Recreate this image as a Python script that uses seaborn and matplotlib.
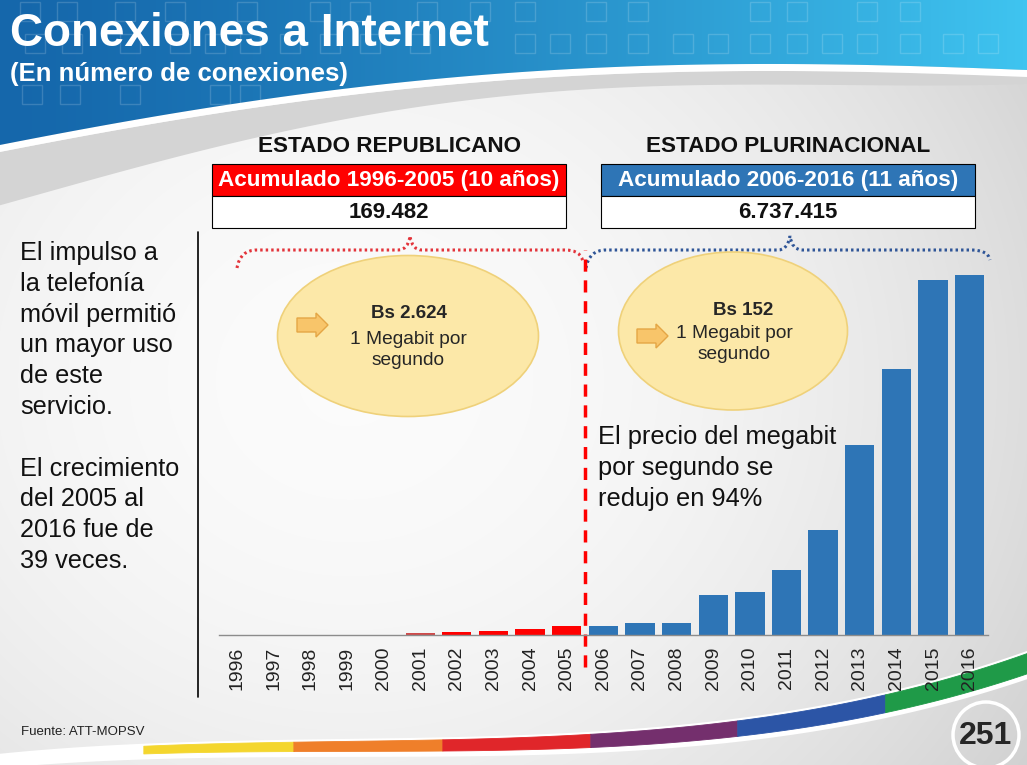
import numpy as np
import pandas as pd
import matplotlib
matplotlib.use("Agg")
import matplotlib.pyplot as plt
import seaborn as sns
from matplotlib.patches import Ellipse, Polygon, Rectangle, Circle, PathPatch
from matplotlib.path import Path

# ---------------- data ----------------
years = [str(y) for y in range(1996, 2017)]
connections = [0, 0, 0, 0, 0, 10600, 15300, 19900, 27700, 43000,
               43000, 56800, 56800, 184800, 198700, 300400, 485200,
               878000, 1229200, 1640500, 1663600]
periods = ["Republicano"] * 10 + ["Plurinacional"] * 11
bar_colors = ["#ff0000"] * 5 + ["#cf4a4a"] + ["#ff0000"] * 4 + ["#2e75b6"] * 11

title = "Conexiones a Internet"
subtitle = "(En número de conexiones)"
head_left = "ESTADO REPUBLICANO"
head_right = "ESTADO PLURINACIONAL"
acc_left_label = "Acumulado 1996-2005 (10 años)"
acc_right_label = "Acumulado 2006-2016 (11 años)"
acc_left_value = "169.482"
acc_right_value = "6.737.415"
price_left = "Bs 2.624"
price_right = "Bs 152"
price_unit = "1 Megabit por\nsegundo"
note_price = ["El precio del megabit", "por segundo se", "redujo en 94%"]
left_lines = ["El impulso a", "la telefonía", "móvil permitió", "un mayor uso",
              "de este", "servicio.", "", "El crecimiento", "del 2005 al",
              "2016 fue de", "39 veces."]
source = "Fuente: ATT-MOPSV"
page = "251"

df = pd.DataFrame({"year": years, "connections": connections, "period": periods})

# ---------------- style ----------------
sns.set_style("white")
plt.rcParams["font.family"] = ["Liberation Sans", "DejaVu Sans"]

W, H = 1027, 765
fig = plt.figure(figsize=(W / 100, H / 100), dpi=100)

# background axes in pixel coordinates
bg = fig.add_axes([0, 0, 1, 1], zorder=0)
bg.set_xlim(0, W)
bg.set_ylim(H, 0)
bg.axis("off")

yy, xx = np.mgrid[0:H, 0:W]
d = np.sqrt(((xx - 350) / 700.0) ** 2 + ((yy - 380) / 620.0) ** 2)
val = 0.985 - 0.125 * np.clip(d, 0, 1.3) ** 2
bg.imshow(np.dstack([val] * 3), extent=[0, W, H, 0], aspect="auto", zorder=0)


def smooth(xp, yp, deg=3, n=2000, x0=0, x1=W):
    c = np.polyfit(xp, yp, deg)
    xs = np.linspace(x0, x1, n)
    return xs, np.polyval(c, xs)


# header
hx, hy = smooth([0, 150, 300, 450, 600, 800, 1027], [145, 117, 95, 77, 68, 64, 70], deg=4)
gx, gy = smooth([0, 150, 300, 450, 600, 800, 1027], [205, 165, 127, 102, 90, 84, 84], deg=4)
gray_poly = np.vstack([np.column_stack([hx, hy + 7]), np.column_stack([gx[::-1], gy[::-1]])])
bg.add_patch(Polygon(gray_poly, closed=True, fc="#d4d4d4", ec="none", zorder=1))
bg.fill_between(hx, hy, hy + 7, color="white", zorder=1.5, lw=0)

head_poly = np.vstack([[[0, 0], [W, 0]], np.column_stack([hx[::-1], hy[::-1]])])
hp = Polygon(head_poly, closed=True, fc="none", ec="none")
bg.add_patch(hp)
grad = np.linspace(0, 1, 256)
c0 = np.array([0x15, 0x67, 0xab]) / 255.0
c1 = np.array([0x3f, 0xc4, 0xf0]) / 255.0
gimg = c0[None, None, :] * (1 - grad[None, :, None] ** 1.3) + c1[None, None, :] * grad[None, :, None] ** 1.3
gimg = np.repeat(gimg, 2, axis=0)
im = bg.imshow(gimg, extent=[0, W, 160, 0], aspect="auto", zorder=2)
im.set_clip_path(hp)

row1 = [20, 57, 115, 165, 237, 310, 350, 417, 470, 515, 586, 628, 750, 787, 857, 900]
row2 = [25, 62, 120, 170, 205, 240, 280, 320, 360, 410, 515, 550, 586, 628, 673, 708,
        750, 787, 822, 857, 900, 943, 978]
for x in row1:
    bg.add_patch(Rectangle((x, 2), 20, 19, fc="none", ec="white", alpha=0.16, lw=1, zorder=2.5))
for x in row2:
    bg.add_patch(Rectangle((x, 34), 20, 19, fc="none", ec="white", alpha=0.16, lw=1, zorder=2.5))
for x in [22, 60, 120, 210, 240]:
    bg.add_patch(Rectangle((x, 85), 20, 19, fc="none", ec="white", alpha=0.16, lw=1, zorder=2.5))

bg.text(10, 46, title, color="white", fontsize=33, fontweight="bold", va="baseline", zorder=3)
bg.text(10, 81, subtitle, color="white", fontsize=18.5, fontweight="bold", va="baseline", zorder=3)

# bottom swoosh
sx, sc = smooth([140, 293, 442, 590, 737, 885, 1027], [749, 748, 745, 739, 727, 706, 662], deg=3, x0=0)
_, st = smooth([140, 293, 442, 590, 737, 885, 1027], [8, 9, 11, 13, 16, 18, 20], deg=2, x0=0)
bg.fill_between(sx, sc - st / 2 - 2, sc + st / 2 + 6, color="white", lw=0, zorder=1)
seg_edges = [143, 293, 442, 590, 737, 885, 1027]
seg_cols = ["#f4d62e", "#ef7f2a", "#e0262a", "#742f6d", "#2c55a6", "#1f9a48"]
for (a, b), col in zip(zip(seg_edges[:-1], seg_edges[1:]), seg_cols):
    m = (sx >= a) & (sx <= b + 0.6)
    bg.fill_between(sx[m], sc[m] - st[m] / 2, sc[m] + st[m] / 2, color=col, lw=0.6, ec=col, zorder=1.2)

bg.text(21, 732, source, fontsize=9.5, color="#222222", va="center")
bg.add_patch(Circle((986, 735), 33, fc="none", ec="white", lw=2.5, zorder=3))
bg.text(986, 736, page, fontsize=23, fontweight="bold", ha="center", va="center", zorder=4)

# left text and separator
for i, line in enumerate(left_lines):
    bg.text(20, 260 + i * 30.8, line, fontsize=18.2, color="#111111", va="baseline")
bg.plot([198, 198], [232, 697], color="black", lw=1.2, zorder=3)

# tables
for x0, x1, hd, lab, v, col in [(212, 566, head_left, acc_left_label, acc_left_value, "#ff0000"),
                                 (601, 975, head_right, acc_right_label, acc_right_value, "#2e75b6")]:
    xc = (x0 + x1) / 2
    bg.text(xc, 146, hd, fontsize=16.2, fontweight="bold", ha="center", va="center", color="#111111")
    bg.add_patch(Rectangle((x0, 164), x1 - x0, 32, fc=col, ec="black", lw=0.8, zorder=3))
    bg.add_patch(Rectangle((x0, 196), x1 - x0, 32, fc="white", ec="black", lw=0.8, zorder=3))
    bg.text(xc, 180, lab, fontsize=16.2, fontweight="bold", ha="center", va="center", color="white", zorder=4)
    bg.text(xc, 212, v, fontsize=16, fontweight="bold", ha="center", va="center", color="#111111", zorder=4)


# braces
def brace(x0, xm, x1, ytop, ystart, yend):
    verts = [(x0, ystart), (x0 + 3, ytop), (x0 + 20, ytop), (xm - 12, ytop), (xm - 2, ytop),
             (xm, ytop - 14), (xm + 2, ytop), (xm + 12, ytop), (x1 - 18, ytop), (x1 - 2, ytop), (x1, yend)]
    codes = [Path.MOVETO, Path.CURVE3, Path.CURVE3, Path.LINETO, Path.CURVE3, Path.CURVE3,
             Path.CURVE3, Path.CURVE3, Path.LINETO, Path.CURVE3, Path.CURVE3]
    return Path(verts, codes)


bg.add_patch(PathPatch(brace(237, 410, 583, 250, 268, 262), fc="none", ec="#e3343b",
                       lw=2.2, ls=(0, (0.8, 1.0)), zorder=3))
bg.add_patch(PathPatch(brace(586, 790, 990, 250, 268, 260), fc="none", ec="#2f5597",
                       lw=2.2, ls=(0, (0.8, 1.0)), zorder=3))

# ellipses
for (cx, cy, ew, eh), price, (ax0, ay) in [((408, 336, 261, 161), price_left, (297, 325)),
                                           ((733, 331, 229, 158), price_right, (637, 336))]:
    bg.add_patch(Ellipse((cx, cy), ew, eh, fc="#fce8a8", ec="#efd17a", lw=1.2, zorder=3))
    arrow = [(ax0, ay - 7), (ax0 + 19, ay - 7), (ax0 + 19, ay - 12), (ax0 + 31, ay),
             (ax0 + 19, ay + 12), (ax0 + 19, ay + 7), (ax0, ay + 7)]
    bg.add_patch(Polygon(arrow, closed=True, fc="#f8c56a", ec="#e4a645", lw=1, zorder=4))

bg.text(409, 313, price_left, fontsize=13.5, fontweight="bold", ha="center", va="center", zorder=5)
bg.text(408, 350, price_unit, fontsize=13.8, ha="center", va="center", linespacing=1.25, zorder=5)
bg.text(743, 310, price_right, fontsize=13.5, fontweight="bold", ha="center", va="center", zorder=5)
bg.text(734, 344, price_unit, fontsize=13.8, ha="center", va="center", linespacing=1.25, zorder=5)

for i, line in enumerate(note_price):
    bg.text(598, 444 + i * 31, line, fontsize=18.3, color="#111111", va="baseline", zorder=5)

# ---------------- chart ----------------
ax = fig.add_axes([218.7 / W, (H - 635) / H, 769.3 / W, 400 / H], zorder=2)
ax.patch.set_alpha(0)
sns.barplot(data=df, x="year", y="connections", hue="year", palette=bar_colors,
            legend=False, width=0.8, saturation=1, linewidth=0, ax=ax)
ax.set_xlim(-0.5, 20.5)
ax.set_ylim(0, 1848000)
ax.set_xlabel("")
ax.set_ylabel("")
ax.set_yticks([])
ax.tick_params(axis="x", length=0, pad=8.5, labelsize=14, labelcolor="#222222", rotation=90)
for s in ["top", "right", "left"]:
    ax.spines[s].set_visible(False)
ax.spines["bottom"].set_color("#8c8c8c")
ax.spines["bottom"].set_linewidth(1)
ax.axvline(9.5, ymin=-0.08, ymax=0.9625, color="#ff0000", lw=2.5, ls=(0, (3.5, 2.5)), clip_on=False)

fig.savefig("out.png", dpi=100)
